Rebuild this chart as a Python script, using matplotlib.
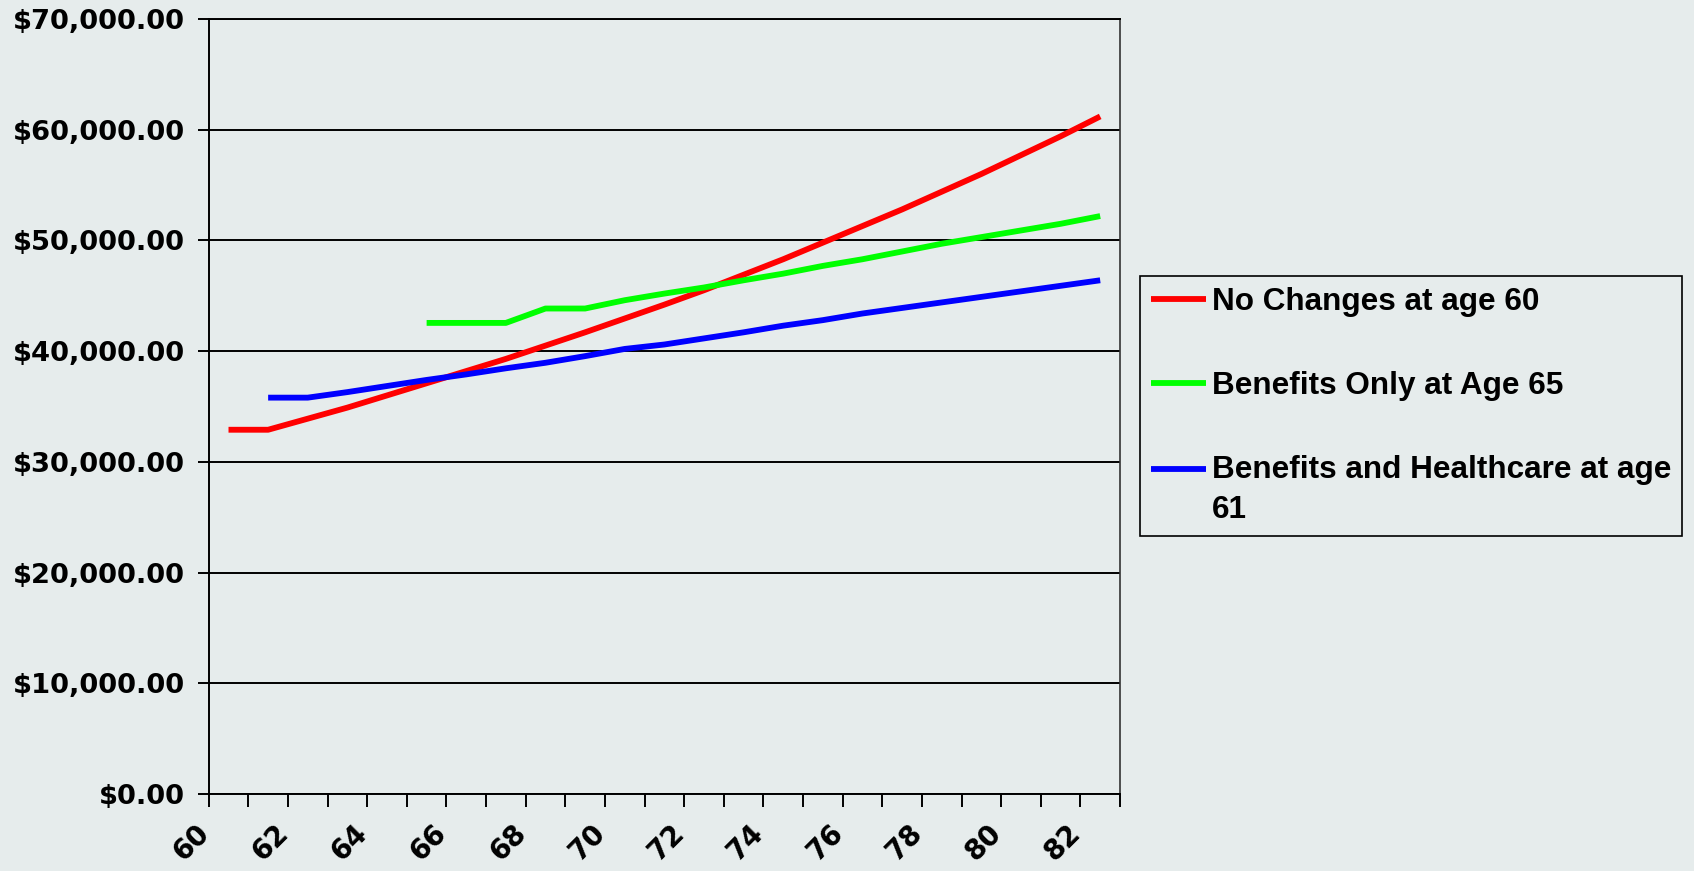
import numpy as np
import matplotlib.pyplot as plt
import matplotlib.transforms as mtransforms
from matplotlib.ticker import MultipleLocator, FuncFormatter
from matplotlib.legend_handler import HandlerLine2D

nan = np.nan

# ages on the x axis
ages = list(range(60, 83))

# yearly amounts for each scenario
no_changes = [32900, 32900, 33900, 34900, 36000, 37100, 38200, 39300, 40500, 41700,
              42950, 44200, 45500, 46900, 48300, 49800, 51300, 52800, 54400, 56000,
              57700, 59400, 61200]
benefits_only = [nan, nan, nan, nan, nan, 42550, 42550, 42550, 43850, 43850,
                 44600, 45200, 45750, 46400, 47000, 47700, 48300, 49000, 49700, 50300,
                 50900, 51500, 52200]
benefits_health = [nan, 35800, 35800, 36300, 36850, 37400, 37900, 38450, 38950, 39550,
                   40200, 40600, 41150, 41700, 42300, 42800, 43400, 43900, 44400, 44900,
                   45400, 45900, 46400]

labels = ['No Changes at age 60', 'Benefits Only at Age 65',
          'Benefits and Healthcare at age\n61']
colors = ['#FF0000', '#00FF00', '#0000FF']

bg = '#E6ECEC'
W, H = 1694, 871


# legend line that sits on the first text line of a wrapped label
class RaisedLine(HandlerLine2D):
    def __init__(self, lift=0.0, **kw):
        super().__init__(**kw)
        self.lift = lift

    def create_artists(self, legend, orig_handle, xdescent, ydescent, width,
                       height, fontsize, trans):
        arts = super().create_artists(legend, orig_handle, xdescent, ydescent,
                                      width, height, fontsize, trans)
        for a in arts:
            a.set_ydata(np.asarray(a.get_ydata()) + self.lift)
        return arts


fig = plt.figure(figsize=(W / 100, H / 100), dpi=100, facecolor=bg)
ax = fig.add_axes([208.7 / W, 1 - 794 / H, (1120 - 208.7) / W, (794 - 19) / H])
ax.set_facecolor(bg)

x = np.arange(len(ages))
lines = []
for series, lab, col in zip([no_changes, benefits_only, benefits_health], labels, colors):
    ln, = ax.plot(x, series, color=col, lw=4.2, label=lab, solid_capstyle='butt')
    lines.append(ln)

ax.set_xlim(-0.5, len(ages) - 0.5)
ax.set_ylim(0, 70000)

# y axis: dollar ticks with black gridlines
ax.yaxis.set_major_locator(MultipleLocator(10000))
ax.yaxis.set_major_formatter(FuncFormatter(lambda v, p: f'${v:,.2f}'))
ax.yaxis.grid(True, color='black', lw=1.4)
ax.set_axisbelow(True)
ax.tick_params(axis='y', length=8, width=1.4, pad=9, labelsize=19.7, labelcolor='black')
for lbl in ax.get_yticklabels():
    lbl.set_fontweight('bold')
    lbl.set_family('DejaVu Sans')

# x axis: ticks between categories, labels on every other age
ax.set_xticks(np.arange(-0.5, len(ages)), labels=[''] * (len(ages) + 1))
ax.set_xticks(x[::2], labels=[str(a) for a in ages[::2]], minor=True)
ax.tick_params(axis='x', which='major', length=9, width=1.4)
ax.tick_params(axis='x', which='minor', length=0, pad=18)
shift = mtransforms.ScaledTranslation(-14 / 100, 0, fig.dpi_scale_trans)
for lbl in ax.get_xticklabels(minor=True):
    lbl.set_rotation(45)
    lbl.set_ha('right')
    lbl.set_va('top')
    lbl.set_fontsize(20)
    lbl.set_fontweight('bold')
    lbl.set_transform(lbl.get_transform() + shift)

for side in ['left', 'bottom', 'top']:
    ax.spines[side].set_linewidth(1.4)
    ax.spines[side].set_color('black')
ax.spines['right'].set_linewidth(1.2)
ax.spines['right'].set_color('#333333')

leg = ax.legend(loc='upper left', bbox_to_anchor=(1140 / W, 1 - 276 / H),
                bbox_transform=fig.transFigure, frameon=True, fancybox=False,
                edgecolor='black', facecolor=bg, framealpha=1,
                prop=dict(family='Liberation Sans', weight='bold', size=22.7),
                handlelength=1.75, handletextpad=0.18, labelspacing=1.72,
                borderpad=0.35, borderaxespad=0,
                handler_map={lines[2]: RaisedLine(lift=15.5)})
leg.get_frame().set_linewidth(1.2)
for t in leg.get_texts():
    t.set_linespacing(1.4)

fig.savefig('out.png', dpi=100, facecolor=bg)
